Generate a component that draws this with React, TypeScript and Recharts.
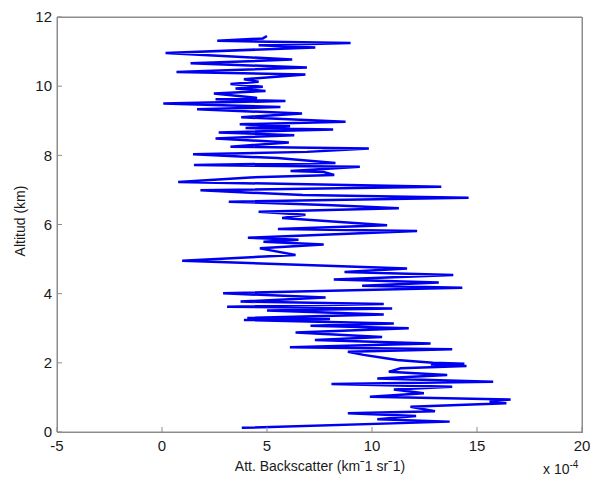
import { LineChart, Line, XAxis, YAxis, CartesianGrid } from "recharts"

// altitude (km), bottom to top
const altitudes = [
  0.12, 0.3, 0.37, 0.46, 0.54, 0.6, 0.73, 0.83, 0.88, 0.94,
  1.02, 1.12, 1.23, 1.31, 1.39, 1.45, 1.55, 1.65, 1.74, 1.84,
  1.91, 1.95, 1.97, 2.0, 2.08, 2.15, 2.23, 2.32, 2.39, 2.45,
  2.56, 2.66, 2.75, 2.88, 3.0, 3.07, 3.14, 3.24, 3.27, 3.3,
  3.4, 3.51, 3.57, 3.62, 3.7, 3.77, 3.89, 4.01, 4.17, 4.23,
  4.32, 4.41, 4.54, 4.63, 4.73, 4.95, 5.12, 5.31, 5.42, 5.5,
  5.56, 5.62, 5.81, 5.87, 5.98, 6.19, 6.28, 6.37, 6.47, 6.56,
  6.66, 6.77, 6.85, 6.99, 7.09, 7.23, 7.36, 7.43, 7.52, 7.55,
  7.67, 7.72, 7.78, 7.92, 8.03, 8.1, 8.2, 8.25, 8.37, 8.49,
  8.58, 8.66, 8.75, 8.79, 8.84, 8.9, 8.97, 9.1, 9.21, 9.33,
  9.4, 9.5, 9.57, 9.62, 9.66, 9.79, 9.86, 9.93, 9.98, 10.06,
  10.13, 10.2, 10.34, 10.41, 10.54, 10.66, 10.77, 10.96, 11.12, 11.18,
  11.25, 11.31, 11.38, 11.45,
]

// attenuated backscatter (x 10^-4 km^-1 sr^-1)
const backscatter = [
  3.8, 13.7, 10.25, 12.1, 8.85, 13.0, 11.83, 16.4, 15.6, 16.6,
  9.9, 12.47, 11.04, 13.82, 8.07, 15.77, 10.25, 13.58, 10.8, 11.36,
  14.5, 12.8, 14.4, 12.9, 11.2, 10.5, 9.6, 8.85, 13.82, 6.09,
  12.79, 7.28, 10.48, 6.36, 11.75, 7.07, 11.04, 3.9, 8.0, 4.06,
  10.56, 5.0, 10.96, 3.1, 10.56, 3.74, 7.79, 2.91, 14.3, 9.53,
  13.18, 8.18, 13.87, 8.69, 11.67, 0.96, 6.36, 4.66, 7.7, 4.83,
  6.5, 4.09, 12.15, 5.52, 10.72, 5.72, 6.83, 4.6, 11.28, 8.1,
  3.18, 14.6, 6.7, 1.83, 13.3, 0.77, 4.2, 8.2, 7.7, 6.12,
  9.42, 1.52, 8.26, 5.5, 1.48, 6.9, 9.85, 3.26, 6.04, 2.55,
  6.3, 2.7, 8.15, 3.98, 6.1, 3.7, 8.74, 3.77, 6.67, 1.67,
  5.64, 0.06, 5.88, 2.55, 4.53, 2.47, 4.93, 3.5, 4.8, 3.26,
  4.6, 3.9, 6.83, 0.69, 6.9, 1.36, 6.2, 0.17, 7.3, 4.6,
  8.98, 2.63, 4.8, 5.0,
]

const xTicks = [-5, 0, 5, 10, 15, 20]
const yTicks = [0, 2, 4, 6, 8, 10, 12]
const xMin = -5
const xMax = 20
const yMin = 0
const yMax = 12

const data = altitudes.map((alt, i) => ({ alt, val: backscatter[i] }))

const W = 593
const H = 484
const margin = { top: 17, right: 11, left: 10, bottom: 22 }
const yAxisWidth = 47
const xAxisHeight = 30
const axisColor = "#8c8c8c"
const tickStyle = { fill: "#1a1a1a", fontSize: 15, fontFamily: "Liberation Sans, Arial, sans-serif" }

export default function App() {
  const plotLeft = margin.left + yAxisWidth
  const plotBottom = H - margin.bottom - xAxisHeight
  return (
    <div style={{ position: "absolute", left: 0, top: 0, width: W, height: H, background: "#fff", fontFamily: "Liberation Sans, Arial, sans-serif", color: "#1a1a1a" }}>
      {/* matlab-style box around the plot area */}
      <div
        style={{
          position: "absolute",
          left: plotLeft,
          top: margin.top,
          width: W - margin.right - plotLeft + 1,
          height: plotBottom - margin.top + 1,
          border: `1px solid ${axisColor}`,
          boxSizing: "border-box",
        }}
      />
      <div style={{ position: "absolute", left: 0, top: 0 }}>
        <LineChart width={W} height={H} data={data} layout="vertical" margin={margin}>
          {/* top and right edges of the box, at the axis limits */}
          <CartesianGrid
            horizontalValues={[yMax]}
            verticalValues={[xMax]}
            stroke={axisColor}
            strokeOpacity={1}
          />
          <XAxis
            type="number"
            dataKey="val"
            domain={[xMin, xMax]}
            ticks={xTicks}
            allowDataOverflow
            height={xAxisHeight}
            tickSize={-5}
            tickMargin={13}
            stroke={axisColor}
            tick={tickStyle}
          />
          <YAxis
            type="number"
            dataKey="alt"
            domain={[yMin, yMax]}
            ticks={yTicks}
            reversed
            allowDataOverflow
            width={yAxisWidth}
            tickSize={-5}
            tickMargin={10}
            stroke={axisColor}
            tick={tickStyle}
          />
          <Line
            type="linear"
            dataKey="val"
            stroke="#0000f0"
            strokeWidth={2.5}
            dot={false}
            isAnimationActive={false}
          />
        </LineChart>
      </div>
      <div style={{ position: "absolute", left: 20, top: 221, transform: "translate(-50%, -50%) rotate(-90deg)", fontSize: 14, whiteSpace: "nowrap" }}>
        Altitud (km)
      </div>
      <div style={{ position: "absolute", left: 320, top: 466, transform: "translate(-50%, -50%)", fontSize: 14, whiteSpace: "nowrap" }}>
        Att. Backscatter (km{"\u02C9"}1 sr{"\u02C9"}1)
      </div>
      <div style={{ position: "absolute", left: 543, top: 459, fontSize: 14, whiteSpace: "nowrap" }}>
        x 10<sup style={{ fontSize: 10, verticalAlign: "6px" }}>-4</sup>
      </div>
    </div>
  )
}
